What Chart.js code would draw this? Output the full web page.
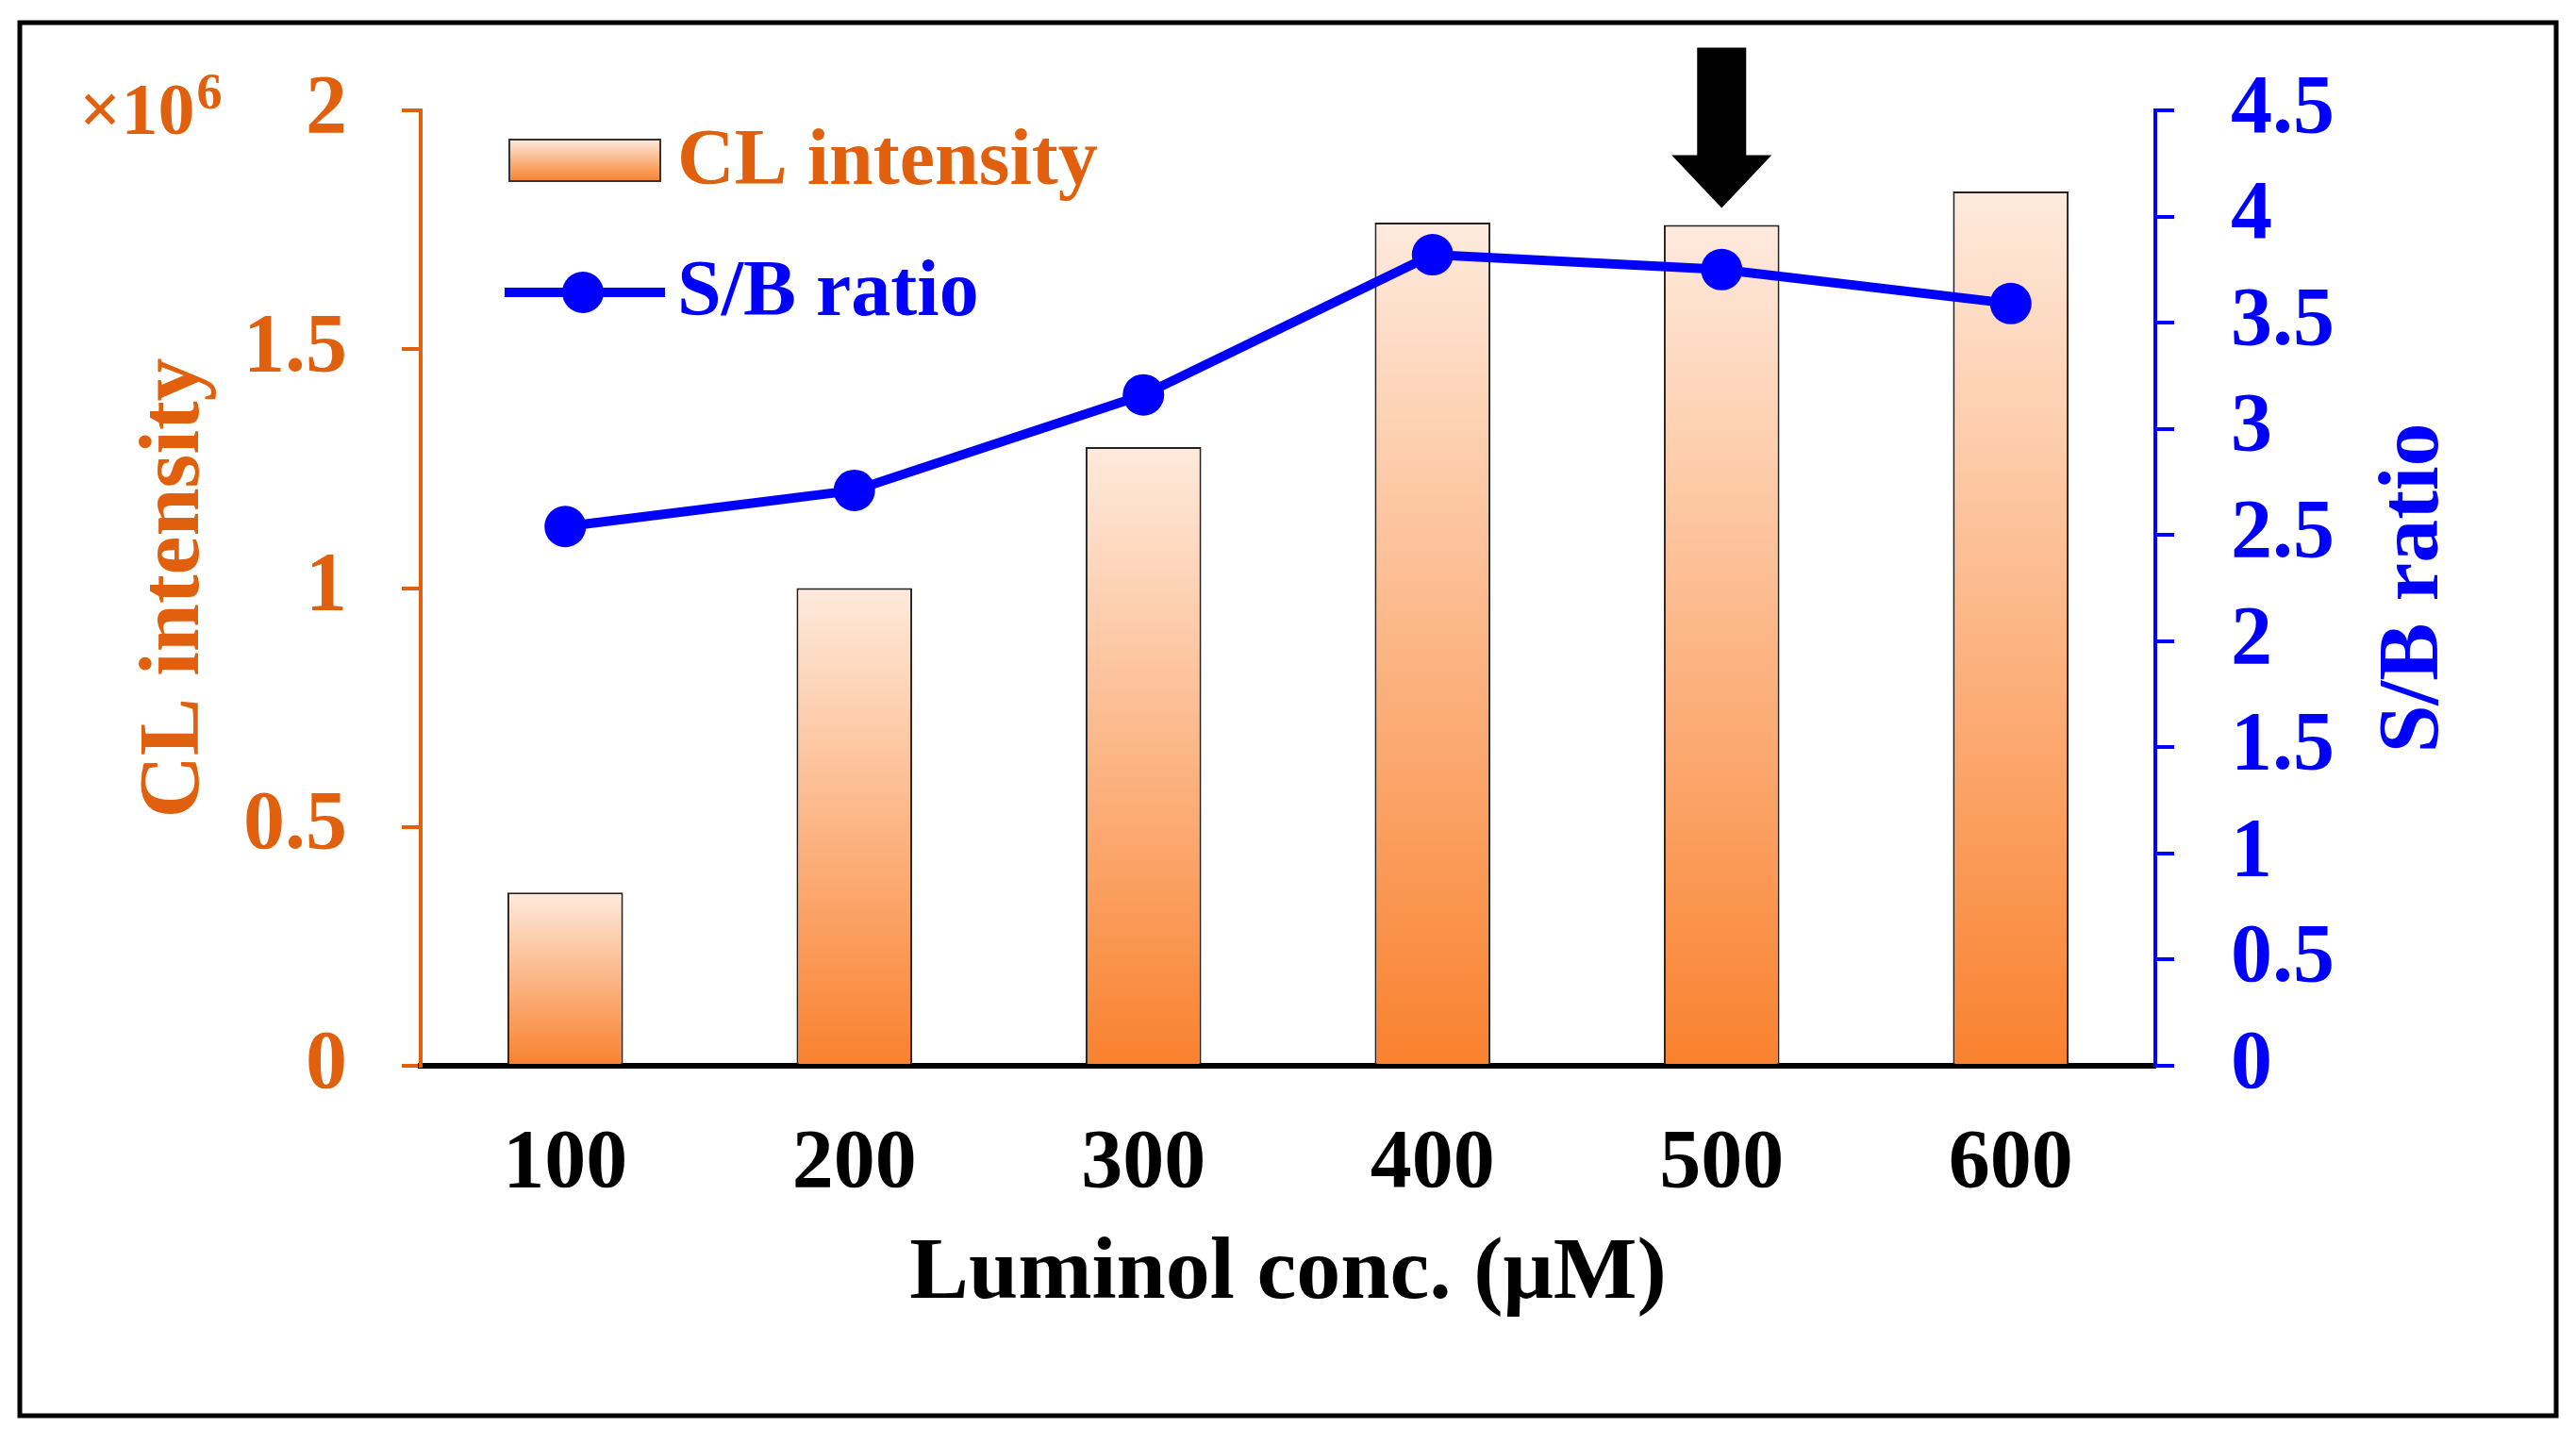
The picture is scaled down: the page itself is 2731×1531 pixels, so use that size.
<!DOCTYPE html>
<html>
<head>
<meta charset="utf-8">
<script src="https://cdn.jsdelivr.net/npm/chart.js@4.4.0/dist/chart.umd.min.js"></script>
<style>
  html, body { margin: 0; padding: 0; background: #fff; }
  #wrap { width: 2731px; height: 1531px; }
</style>
</head>
<body>
<div id="wrap"><canvas id="luminol-chart"></canvas></div>
<script>
// ------------------------------------------------------
// @Data
// ------------------------------------------------------
const categories  = ['100', '200', '300', '400', '500', '600'];
const clIntensity = [0.363, 1.0, 1.295, 1.765, 1.76, 1.83];   // x10^6
const sbRatio     = [2.54, 2.71, 3.16, 3.82, 3.75, 3.59];
const leftTicks   = [0, 0.5, 1, 1.5, 2];
const rightTicks  = [0, 0.5, 1, 1.5, 2, 2.5, 3, 3.5, 4, 4.5];
const markedCategory = '500';

const ORANGE = '#E0600E';
const BLUE   = '#0000FF';
const FONT   = '"Liberation Serif", "Times New Roman", serif';

function barGradient(ctx, top, base) {
  const g = ctx.createLinearGradient(0, top, 0, base);
  g.addColorStop(0, '#FEEADD');
  g.addColorStop(1, '#F9812E');
  return g;
}

// ------------------------------------------------------
// @Plugins
// ------------------------------------------------------
const frame = {
  id: 'frame',
  afterDraw(chart) {
    const ctx = chart.ctx;
    ctx.save();
    ctx.strokeStyle = '#000';
    ctx.lineWidth = 5;
    ctx.strokeRect(21, 24, 2689, 1477);
    ctx.restore();
  },
};

const extras = {
  id: 'extras',
  afterDatasetsDraw(chart) {
    const ctx = chart.ctx;
    const x = chart.scales.x;
    const y = chart.scales.y;
    const y2 = chart.scales.y2;
    const area = chart.chartArea;

    ctx.save();

    // arrow pointing at the chosen concentration
    const i = categories.indexOf(markedCategory);
    const ax = x.getPixelForValue(i);
    const tip = y.getPixelForValue(clIntensity[i]) - 18;
    ctx.fillStyle = '#000';
    ctx.beginPath();
    ctx.moveTo(ax - 26, tip - 170);
    ctx.lineTo(ax + 26, tip - 170);
    ctx.lineTo(ax + 26, tip - 56);
    ctx.lineTo(ax + 53, tip - 56);
    ctx.lineTo(ax, tip);
    ctx.lineTo(ax - 53, tip - 56);
    ctx.lineTo(ax - 26, tip - 56);
    ctx.closePath();
    ctx.fill();

    // x10^6 multiplier
    ctx.fillStyle = ORANGE;
    ctx.textBaseline = 'alphabetic';
    ctx.textAlign = 'left';
    ctx.font = 'bold 78px ' + FONT;
    ctx.fillText('\u00d710', 84, 142);
    const w = ctx.measureText('\u00d710').width;
    ctx.font = 'bold 54px ' + FONT;
    ctx.fillText('6', 84 + w + 2, 115);

    // right axis title, reading bottom to top
    ctx.fillStyle = BLUE;
    ctx.font = 'bold 92px ' + FONT;
    ctx.textAlign = 'center';
    ctx.textBaseline = 'middle';
    ctx.translate(y2.right - 141, (area.top + area.bottom) / 2);
    ctx.rotate(-Math.PI / 2);
    ctx.fillText('S/B ratio', 0, 0);
    ctx.restore();

    // legend
    ctx.save();
    ctx.fillStyle = barGradient(ctx, 148, 192);
    ctx.fillRect(540, 148, 160, 44);
    ctx.strokeStyle = '#333';
    ctx.lineWidth = 2;
    ctx.strokeRect(540, 148, 160, 44);
    ctx.font = 'bold 84px ' + FONT;
    ctx.textBaseline = 'middle';
    ctx.fillStyle = ORANGE;
    ctx.fillText(chart.data.datasets[0].label, 718, 173);

    ctx.strokeStyle = BLUE;
    ctx.lineWidth = 10;
    ctx.beginPath();
    ctx.moveTo(535, 310);
    ctx.lineTo(705, 310);
    ctx.stroke();
    ctx.fillStyle = BLUE;
    ctx.beginPath();
    ctx.arc(618, 310, 22, 0, Math.PI * 2);
    ctx.fill();
    ctx.fillText(chart.data.datasets[1].label, 718, 312);
    ctx.restore();
  },
};

// ------------------------------------------------------
// @Chart
// ------------------------------------------------------
const chartBox = document.getElementById('luminol-chart');

new Chart(chartBox.getContext('2d'), {
  type: 'bar',
  data: {
    labels: categories,
    datasets: [{
      type            : 'bar',
      label           : 'CL intensity',
      data            : clIntensity,
      yAxisID         : 'y',
      order           : 1,
      borderColor     : '#222',
      borderWidth     : 2,
      borderSkipped   : 'bottom',
      barPercentage   : 0.4,
      categoryPercentage: 1,
      backgroundColor : (c) => {
        const chart = c.chart;
        if (!chart.chartArea || c.type !== 'data') return '#F9812E';
        const y = chart.scales.y;
        return barGradient(chart.ctx, y.getPixelForValue(c.raw), y.getPixelForValue(0));
      },
    }, {
      type                 : 'line',
      label                : 'S/B ratio',
      data                 : sbRatio,
      yAxisID              : 'y2',
      order                : 0,
      borderColor          : BLUE,
      borderWidth          : 10,
      pointRadius          : 22,
      pointBackgroundColor : BLUE,
      pointBorderColor     : BLUE,
      pointBorderWidth     : 0,
      tension              : 0,
    }],
  },
  options: {
    responsive: true,
    maintainAspectRatio: false,
    animation: false,
    layout: { padding: { left: 30, right: 30, top: 117, bottom: 30 } },
    plugins: {
      legend: { display: false },
      tooltip: { enabled: false },
    },
    scales: {
      x: {
        offset: true,
        grid: { display: false, drawTicks: false },
        border: { display: true, color: '#000', width: 6 },
        ticks: { color: '#000', padding: 52, font: { family: FONT, size: 88, weight: 'bold' } },
        title: {
          display: true,
          text: 'Luminol conc. (\u03bcM)',
          color: '#000',
          padding: { top: 0, bottom: 93 },
          font: { family: FONT, size: 94, weight: 'bold' },
        },
        afterFit: (s) => { s.height = 371; },
      },
      y: {
        position: 'left',
        min: leftTicks[0],
        max: leftTicks[leftTicks.length - 1],
        afterBuildTicks: (s) => { s.ticks = leftTicks.map(v => ({ value: v })); },
        grid: { drawOnChartArea: false, drawTicks: true, tickLength: 20, color: ORANGE, lineWidth: 4 },
        border: { display: true, color: ORANGE, width: 4 },
        ticks: {
          color: ORANGE,
          padding: 58,
          font: { family: FONT, size: 88, weight: 'bold' },
          callback: (v) => String(v),
        },
        title: {
          display: true,
          text: 'CL intensity',
          color: ORANGE,
          padding: { top: 101, bottom: 0 },
          font: { family: FONT, size: 92, weight: 'bold' },
        },
        afterFit: (s) => { s.width = 416; },
      },
      y2: {
        position: 'right',
        min: rightTicks[0],
        max: rightTicks[rightTicks.length - 1],
        afterBuildTicks: (s) => { s.ticks = rightTicks.map(v => ({ value: v })); },
        grid: { drawOnChartArea: false, drawTicks: true, tickLength: 20, color: BLUE, lineWidth: 4 },
        border: { display: true, color: BLUE, width: 4 },
        ticks: {
          color: BLUE,
          padding: 60,
          font: { family: FONT, size: 88, weight: 'bold' },
          callback: (v) => String(v),
        },
        afterFit: (s) => { s.width = 416; },
      },
    },
  },
  plugins: [frame, extras],
});
</script>
</body>
</html>
